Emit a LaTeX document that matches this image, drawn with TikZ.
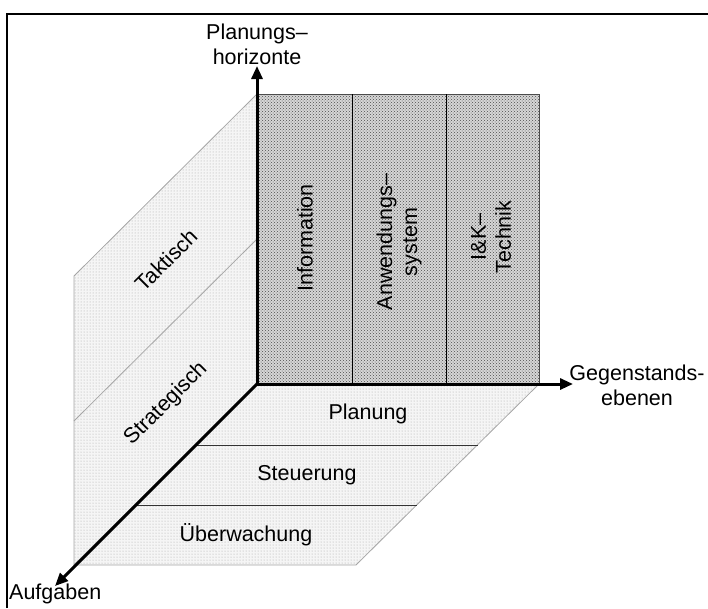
\documentclass[tikz,border=0pt]{standalone}
\usepackage{fontspec}
\setmainfont{Liberation Sans}
\usetikzlibrary{arrows.meta,patterns}
\begin{document}
\begin{tikzpicture}[x=1pt,y=-1pt,
  every node/.style={font=\fontsize{21.5}{25}\selectfont, inner sep=0pt, align=center},
  axis/.style={line width=3pt, -{Triangle[length=13pt,width=11pt]}},
  thinline/.style={draw=gray!70, line width=0.8pt},
  divline/.style={draw=black!80, line width=0.8pt},
  lightpanel/.style={fill=gray!8},
  greypanel/.style={fill=gray!32}]
\useasboundingbox (0,0) rectangle (708,608);
% frame
\draw[line width=2pt] (7,608) -- (7,14) -- (708,14);
% corner points
\coordinate (O) at (257,384);
\coordinate (T) at (257,94);
\coordinate (R) at (539,384);
\coordinate (RT) at (539,94);
\coordinate (LB) at (74,565);
\coordinate (LT) at (74,276);
\coordinate (BR) at (356,565);
% left panel
\path[lightpanel] (T) -- (O) -- (LB) -- (LT) -- cycle;
\path[pattern=dots, pattern color=gray!70] (T) -- (O) -- (LB) -- (LT) -- cycle;
\draw[thinline] (T) -- (O) -- (LB) -- (LT) -- cycle;
\draw[thinline] (257,239) -- (74,421);
% bottom panel
\path[lightpanel] (O) -- (R) -- (BR) -- (LB) -- cycle;
\path[pattern=dots, pattern color=gray!70] (O) -- (R) -- (BR) -- (LB) -- cycle;
\draw[thinline] (O) -- (R) -- (BR) -- (LB) -- cycle;
\draw[divline] (196,445) -- (478,445);
\draw[divline] (135,505) -- (417,505);
% grey rectangle
\path[greypanel] (T) rectangle (R);
\path[pattern=crosshatch dots, pattern color=gray!60!black] (T) rectangle (R);
\draw[draw=gray!60!black, line width=1pt] (T) rectangle (R);
\draw[black, line width=0.9pt] (352,94) -- (352,384);
\draw[black, line width=0.9pt] (446,94) -- (446,384);
% axes
\coordinate (up) at (257,66);
\coordinate (right) at (573,384);
\coordinate (down) at (55,586);
\draw[axis] (O) -- (up);
\draw[axis] (O) -- (right);
\draw[axis] (O) -- (down);
% axis labels
\node (lp) at (257,44) {Planungs–\\horizonte};
\node (lg) at (637,385) {Gegenstands-\\ebenen};
\node[anchor=west] (la) at (9,594) {Aufgaben};
% panel labels
\node[rotate=45] (tak) at (166,260) {Taktisch};
\node[rotate=45] (str) at (166,404) {Strategisch};
\node[rotate=90] (inf) at (305,238) {Information};
\node[rotate=90] (anw) at (399,242) {Anwendungs–\\system};
\node[rotate=90] (iuk) at (491,237) {I\&K–\\Technik};
\node (pla) at (368,414) {Planung};
\node (ste) at (307,475) {Steuerung};
\node (ueb) at (246,535) {Überwachung};
\end{tikzpicture}
\end{document}
